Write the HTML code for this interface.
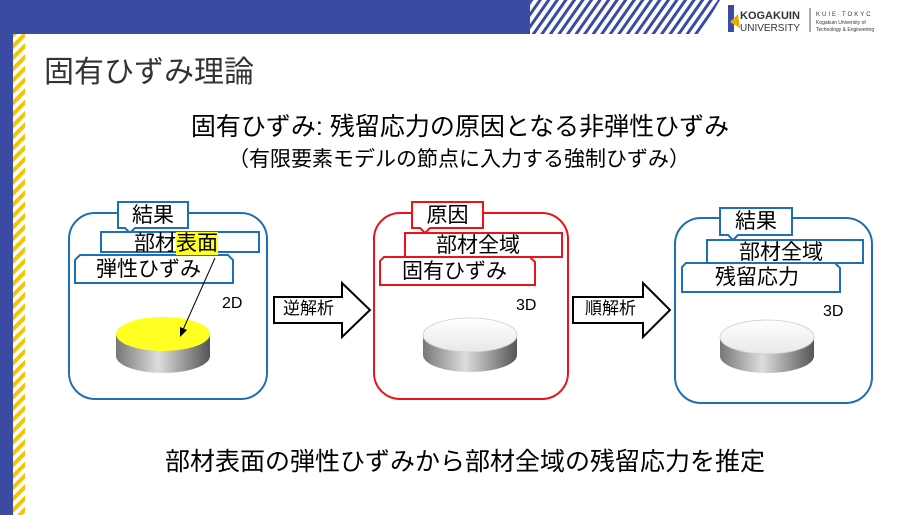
<!DOCTYPE html>
<html><head><meta charset="utf-8"><style>
body{margin:0;width:900px;height:515px;overflow:hidden;background:#fff;position:relative;font-family:"Liberation Sans","Noto Sans CJK JP",sans-serif;}
.a{position:absolute;white-space:nowrap;line-height:1.2;}
</style></head><body>
<svg class="a" style="left:0;top:0" width="900" height="515">
<defs>
<pattern id="ys" width="8" height="8" patternUnits="userSpaceOnUse" patternTransform="rotate(-45)">
<rect width="8" height="4" fill="#f5c400"/></pattern>
<pattern id="bs" width="7" height="7" patternUnits="userSpaceOnUse" patternTransform="rotate(35)">
<rect width="3" height="7" fill="#3b4aa3"/></pattern>
<linearGradient id="cyl" x1="0" x2="1"><stop offset="0" stop-color="#777"/><stop offset=".45" stop-color="#ddd"/><stop offset="1" stop-color="#555"/></linearGradient>
<linearGradient id="top" x1="0" y1="0" x2="0" y2="1"><stop offset="0" stop-color="#fff"/><stop offset="1" stop-color="#e8e8e8"/></linearGradient>
</defs>
<rect x="0" y="0" width="530" height="34" fill="#3b4aa3"/>
<polygon points="510,34 530,0 720,0 700,34" fill="url(#bs)"/>
<rect x="0" y="0" width="13" height="515" fill="#3b4aa3"/>
<rect x="13" y="34" width="12" height="481" fill="url(#ys)"/>
<rect x="728" y="5" width="6" height="27" fill="#3b4aa3"/>
<polygon points="730,22 738,14 740,28" fill="#e0b000"/>
<text x="740" y="19" font-size="11" font-weight="bold" fill="#333" font-family="Liberation Sans">KOGAKUIN</text>
<text x="740" y="31" font-size="10" fill="#333" font-family="Liberation Sans">UNIVERSITY</text>
<line x1="810" y1="8" x2="810" y2="32" stroke="#555"/>
<text x="816" y="16" font-size="6" fill="#333" letter-spacing="2">KUIE·TOKYC</text>
<text x="816" y="24" font-size="5" fill="#333">Kogakuin University of</text>
<text x="816" y="31" font-size="5" fill="#333">Technology &amp; Engineering</text>

<rect x="69" y="213" width="198" height="186" rx="26" fill="none" stroke="#1f6fb5" stroke-width="2"/>
<path d="M118,202 h70 v26 h-53 l-5,5 l-5,-5 h-7 z" fill="#fff" stroke="#1f6fb5" stroke-width="2"/>
<path d="M101,232 h158 v20 h-158 z" fill="#fff" stroke="#1f6fb5" stroke-width="2"/>
<path d="M80,255 h148 l5,5 v23 h-158 v-23 z" fill="#fff" stroke="#1f6fb5" stroke-width="2"/>
<path d="M116,334 v22 a47,17 0 0 0 94,0 v-22 z" fill="url(#cyl)"/>
<ellipse cx="163" cy="334" rx="47" ry="17" fill="#ffff22"/>
<line x1="215" y1="258" x2="182" y2="332" stroke="#000" stroke-width="1"/>
<polygon points="180,337 180,327 187,330" fill="#000"/>
<path d="M274,297 h68 v-14 l28,27 l-28,27 v-14 h-68 z" fill="#fff" stroke="#000" stroke-width="2"/>
<rect x="374" y="213" width="194" height="186" rx="26" fill="none" stroke="#e8141a" stroke-width="2"/>
<path d="M412,202 h71 v26 h-53 l-5,5 l-5,-5 h-8 z" fill="#fff" stroke="#e8141a" stroke-width="2"/>
<path d="M405,233 h157 v24 h-157 z" fill="#fff" stroke="#e8141a" stroke-width="2"/>
<path d="M384,257 h146 l5,5 v23 h-155 v-24 z" fill="#fff" stroke="#e8141a" stroke-width="2"/>
<path d="M423,335 v20 a47,17 0 0 0 94,0 v-20 z" fill="url(#cyl)"/>
<ellipse cx="470" cy="335" rx="47" ry="17" fill="url(#top)" stroke="#ccc" stroke-width=".8"/>
<path d="M573,297 h70 v-14 l27,27 l-27,27 v-14 h-70 z" fill="#fff" stroke="#000" stroke-width="2"/>
<rect x="675" y="218" width="197" height="185" rx="26" fill="none" stroke="#1f6fb5" stroke-width="2"/>
<path d="M720,208 h72 v27 h-54 l-5,5 l-5,-5 h-8 z" fill="#fff" stroke="#1f6fb5" stroke-width="2"/>
<path d="M707,240 h156 v23 h-156 z" fill="#fff" stroke="#1f6fb5" stroke-width="2"/>
<path d="M686,263 h149 l5,5 v24 h-158 v-25 z" fill="#fff" stroke="#1f6fb5" stroke-width="2"/>
<path d="M720,337 v19 a47,17 0 0 0 94,0 v-19 z" fill="url(#cyl)"/>
<ellipse cx="767" cy="337" rx="47" ry="17" fill="url(#top)" stroke="#ccc" stroke-width=".8"/>
</svg>

<div class="a" style="left:44px;top:55px;font-size:30px;color:#333;">固有ひずみ理論</div>
<div class="a" style="left:0;width:920px;text-align:center;top:112px;font-size:25px;color:#000;">固有ひずみ: 残留応力の原因となる非弾性ひずみ</div>
<div class="a" style="left:0;width:918px;text-align:center;top:147px;font-size:21px;color:#000;">（有限要素モデルの節点に入力する強制ひずみ）</div>

<div class="a" style="left:118px;width:70px;text-align:center;top:203px;font-size:21px;">結果</div>
<div class="a" style="left:134px;top:231px;font-size:21px;">部材<span style="background:#ffff22">表面</span></div>
<div class="a" style="left:96px;top:257px;font-size:21px;">弾性ひずみ</div>
<div class="a" style="left:222px;top:294px;font-size:16px;">2D</div>
<div class="a" style="left:283px;top:299px;font-size:17px;">逆解析</div>

<div class="a" style="left:412px;width:71px;text-align:center;top:203px;font-size:21px;">原因</div>
<div class="a" style="left:436px;top:233px;font-size:21px;">部材全域</div>
<div class="a" style="left:402px;top:259px;font-size:21px;">固有ひずみ</div>
<div class="a" style="left:516px;top:296px;font-size:16px;">3D</div>
<div class="a" style="left:585px;top:299px;font-size:17px;">順解析</div>

<div class="a" style="left:720px;width:72px;text-align:center;top:209px;font-size:21px;">結果</div>
<div class="a" style="left:739px;top:240px;font-size:21px;">部材全域</div>
<div class="a" style="left:715px;top:265px;font-size:21px;">残留応力</div>
<div class="a" style="left:823px;top:302px;font-size:16px;">3D</div>

<div class="a" style="left:0;width:930px;text-align:center;top:447px;font-size:25px;color:#000;">部材表面の弾性ひずみから部材全域の残留応力を推定</div>
</body></html>
